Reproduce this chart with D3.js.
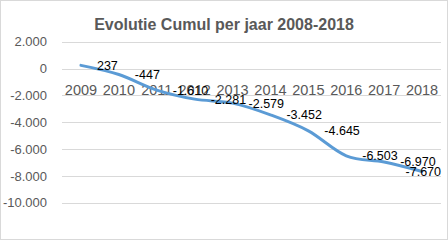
<!DOCTYPE html>
<html>
<head>
<meta charset="utf-8">
<script src="https://cdn.jsdelivr.net/npm/d3@7"></script>
<style>
  html, body { margin: 0; padding: 0; background: #fff; }
  svg { display: block; }
</style>
</head>
<body>
<svg id="chart" width="448" height="240"></svg>
<script>
const categories = ["2009", "2010", "2011", "2012", "2013", "2014", "2015", "2016", "2017", "2018"];
const cumul = [237, -447, -1610, -2281, -2579, -3452, -4645, -6503, -6970, -7670];
const yTicks = [2000, 0, -2000, -4000, -6000, -8000, -10000];
const title = "Evolutie Cumul per jaar 2008-2018";

(function () {
const W = 448, H = 240;
const pLeft = 62, pRight = 441, pTop = 41.7, pBottom = 202.7;
const font = "'Liberation Sans', Arial, sans-serif";

const nl = d3.formatLocale({decimal: ",", thousands: ".", grouping: [3], currency: ["€", ""], minus: "-"});
const fmt = nl.format(",d");

const svg = d3.select("#chart");
svg.append("rect").attr("x", 0.5).attr("y", 0.5).attr("width", W - 1).attr("height", H - 1)
  .attr("fill", "#fff").attr("stroke", "#d9d9d9");

const x = d3.scaleBand().domain(categories).range([pLeft, pRight]);
const y = d3.scaleLinear().domain([-10000, 2000]).range([pBottom, pTop]);

// gridlines
svg.append("g").selectAll("line").data(yTicks).join("line")
  .attr("x1", pLeft).attr("x2", pRight)
  .attr("y1", d => Math.round(y(d)) + 0.5).attr("y2", d => Math.round(y(d)) + 0.5)
  .attr("stroke", "#d9d9d9").attr("stroke-width", 1);

// y axis
const yAxis = svg.append("g").attr("transform", `translate(${pLeft},0)`)
  .call(d3.axisLeft(y).tickValues(yTicks).tickFormat(fmt).tickSize(0).tickPadding(15));
yAxis.select(".domain").remove();
yAxis.selectAll("text").attr("fill", "#595959").style("font-family", font).style("font-size", "13px");

// category axis at zero
const xAxis = svg.append("g").attr("transform", `translate(0,${y(0)})`)
  .call(d3.axisBottom(x).tickSize(0).tickPadding(16));
xAxis.select(".domain").remove();
xAxis.selectAll("text").attr("fill", "#595959").style("font-family", font).style("font-size", "14.5px");

// title
svg.append("text").attr("x", 224).attr("y", 30).attr("text-anchor", "middle")
  .attr("fill", "#595959").style("font-family", font).style("font-size", "16px").style("font-weight", "bold")
  .text(title);

// line
const pts = categories.map((c, i) => [x(c) + x.bandwidth() / 2, y(cumul[i])]);
const line = d3.line().curve(d3.curveCatmullRom.alpha(0));
svg.append("path").attr("d", line(pts)).attr("fill", "none")
  .attr("stroke", "#5B9BD5").attr("stroke-width", 3).attr("stroke-linejoin", "round").attr("stroke-linecap", "round");

// data labels
const lbl = svg.append("g").selectAll("text").data(cumul).join("text")
  .attr("y", (d, i) => pts[i][1])
  .attr("dy", "0.35em")
  .attr("fill", "#000").style("font-family", font).style("font-size", "12.5px")
  .text(d => fmt(d));
lbl.each(function(d, i) {
  const w = this.getComputedTextLength();
  let xs = pts[i][0] + 16;
  if (xs + w > pRight) xs = pRight - w;
  d3.select(this).attr("x", xs);
});
})();
</script>
</body>
</html>
